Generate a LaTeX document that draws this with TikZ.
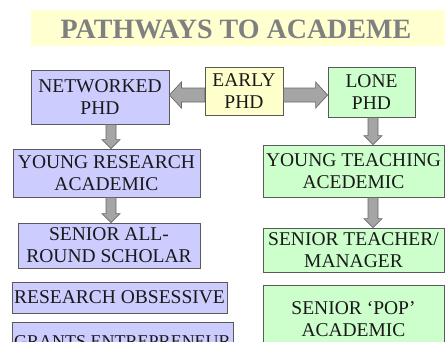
\documentclass[tikz,border=0pt]{standalone}
\usepackage{fontspec}
\setmainfont{Liberation Serif}
\usetikzlibrary{calc}

\definecolor{bandyellow}{RGB}{255,255,208}
\definecolor{boxyellow}{RGB}{255,255,204}
\definecolor{lavender}{RGB}{204,204,255}
\definecolor{mint}{RGB}{204,255,204}
\definecolor{titlegray}{RGB}{128,128,128}
\definecolor{edgegray}{RGB}{90,90,90}
\definecolor{arrowfill}{RGB}{165,165,165}
\definecolor{arrowedge}{RGB}{105,105,105}

\tikzset{
	box/.style = {draw=edgegray, line width=0.8pt, align=center, inner sep=0pt,
		text=black!90, font=\fontsize{19.5}{22}\selectfont},
	netbox/.style = {box, fill=lavender},
	lonebox/.style = {box, fill=mint},
	startbox/.style = {box, fill=boxyellow},
	arrowbody/.style = {draw=arrowedge, line width=0.7pt, fill=arrowfill, line join=miter}
}

% block arrow: from, to, shaft half width, head half width, head length
\newcommand{\blockarrow}[5]{%
	\coordinate (tip) at ($(#2)!#5!(#1)$);
	\draw[arrowbody] ($(#1)!#3!90:(#2)$) -- ($(tip)!#3!90:(#2)$) -- ($(tip)!#4!90:(#2)$)
		-- (#2) -- ($(tip)!#4!-90:(#2)$) -- ($(tip)!#3!-90:(#2)$) -- ($(#1)!#3!-90:(#2)$) -- cycle;}

\begin{document}
\begin{tikzpicture}[x=1pt, y=-1pt]
	\useasboundingbox (0,0) rectangle (445,341);
	% title band
	\fill[bandyellow] (31,10) rectangle (445,46);
	\node[text=titlegray, font=\fontsize{28}{30}\selectfont\bfseries] (title) at (236,29) {PATHWAYS TO ACADEME};

	% boxes
	\node[startbox, minimum width=78pt, minimum height=48pt] (early) at (244,91) {EARLY\\PHD};
	\node[netbox, minimum width=138pt, minimum height=54pt] (net) at (100,97) {NETWORKED\\PHD};
	\node[lonebox, minimum width=87pt, minimum height=50pt] (lone) at (371.5,92) {LONE\\PHD};
	\node[netbox, minimum width=187pt, minimum height=48pt] (yra) at (106.5,173) {YOUNG RESEARCH\\ACADEMIC};
	\node[lonebox, minimum width=181pt, minimum height=52pt] (yta) at (353.5,171) {YOUNG TEACHING\\ACEDEMIC};
	\node[netbox, minimum width=182pt, minimum height=45pt] (sars) at (109,245.5) {SENIOR ALL-\\ROUND SCHOLAR};
	\node[lonebox, minimum width=181pt, minimum height=44pt] (stm) at (353.5,250) {SENIOR TEACHER/\\MANAGER};
	\node[netbox, minimum width=215pt, minimum height=31pt] (ro) at (119.5,297.5) {RESEARCH OBSESSIVE};
	\node[netbox, minimum width=221pt, minimum height=40pt, font=\fontsize{18}{20}\selectfont] (ge) at (122.5,342) {GRANTS ENTREPRENEUR};
	\node[lonebox, minimum width=181pt, minimum height=68pt] (spa) at (353.5,319) {SENIOR ‘POP’\\ACADEMIC};

	% arrow end points
	\coordinate (l1) at (early.west |- 0,95);
	\coordinate (l2) at (net.east |- 0,95);
	\coordinate (r1) at (early.east |- 0,95);
	\coordinate (r2) at (lone.west |- 0,95);
	\coordinate (d1) at (net.south -| 111,0);
	\coordinate (d2) at (yra.north -| 111,0);
	\coordinate (d3) at (lone.south -| 373,0);
	\coordinate (d4) at (yta.north -| 373,0);
	\coordinate (d5) at (yra.south -| 111,0);
	\coordinate (d6) at (sars.north -| 111,0);
	\coordinate (d7) at (yta.south -| 373,0);
	\coordinate (d8) at (stm.north -| 373,0);

	\blockarrow{l1}{l2}{7pt}{13pt}{12pt}
	\blockarrow{r1}{r2}{7pt}{13pt}{12pt}
	\blockarrow{d1}{d2}{5pt}{9pt}{9pt}
	\blockarrow{d3}{d4}{5pt}{9pt}{9pt}
	\blockarrow{d5}{d6}{5pt}{9pt}{9pt}
	\blockarrow{d7}{d8}{5pt}{9pt}{9pt}
\end{tikzpicture}
\end{document}
